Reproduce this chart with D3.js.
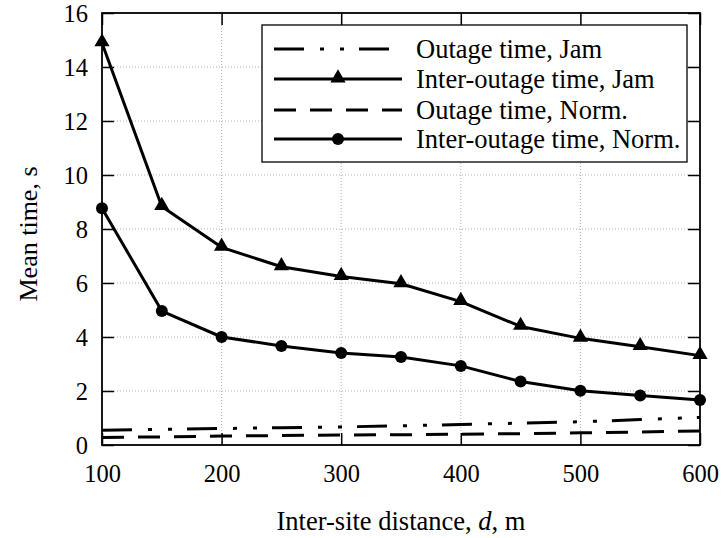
<!DOCTYPE html>
<html>
<head>
<meta charset="utf-8">
<script src="https://cdn.jsdelivr.net/npm/d3@7"></script>
<style>
  html, body { margin: 0; padding: 0; background: #fff; }
  svg { display: block; font-family: "Liberation Serif", "Times New Roman", serif; }
</style>
</head>
<body>
<svg id="chart" width="724" height="538"></svg>
<script>
// ---- data ----
const distances = [100, 150, 200, 250, 300, 350, 400, 450, 500, 550, 600];
const outageJam = [0.55, 0.58, 0.61, 0.64, 0.67, 0.71, 0.76, 0.81, 0.86, 0.94, 1.02];
const interOutageJam = [14.89, 8.83, 7.32, 6.60, 6.24, 5.97, 5.31, 4.39, 3.95, 3.64, 3.31];
const outageNorm = [0.28, 0.30, 0.33, 0.35, 0.37, 0.38, 0.40, 0.42, 0.45, 0.48, 0.52];
const interOutageNorm = [8.77, 4.96, 4.00, 3.67, 3.41, 3.26, 2.93, 2.35, 2.01, 1.83, 1.67];
const xTicks = [100, 200, 300, 400, 500, 600];
const yTicks = [0, 2, 4, 6, 8, 10, 12, 14, 16];
const seriesNames = ["Outage time, Jam", "Inter-outage time, Jam", "Outage time, Norm.", "Inter-outage time, Norm."];
const xTitle = "Inter-site distance, ";
const yTitle = "Mean time, s";

const series = [
  { name: seriesNames[0], values: outageJam, dash: "30,16,4,16,4,15", marker: null },
  { name: seriesNames[1], values: interOutageJam, dash: null, marker: "triangle" },
  { name: seriesNames[2], values: outageNorm, dash: "22,14", marker: null },
  { name: seriesNames[3], values: interOutageNorm, dash: null, marker: "circle" }
];

const L = 102, R = 700, T = 13, B = 445;
const svg = d3.select("#chart");
const x = d3.scaleLinear().domain([100, 600]).range([L, R]);
const y = d3.scaleLinear().domain([0, 16]).range([B, T]);

// grid
const grid = svg.append("g");
grid.selectAll("line.gx").data(xTicks.slice(1, -1)).join("line")
  .attr("x1", d => x(d)).attr("x2", d => x(d)).attr("y1", T).attr("y2", B)
  .attr("stroke", "#b0b0b0").attr("stroke-width", 1).attr("stroke-dasharray", "1,2");
grid.selectAll("line.gy").data(yTicks.slice(1, -1)).join("line")
  .attr("y1", d => y(d)).attr("y2", d => y(d)).attr("x1", L).attr("x2", R)
  .attr("stroke", "#b0b0b0").attr("stroke-width", 1).attr("stroke-dasharray", "1,2");

// axes with inward ticks
const tickLen = 12;
const fmt = d3.format("d");
const xAxisB = d3.axisBottom(x).tickValues(xTicks).tickSize(-tickLen).tickPadding(tickLen + 20).tickFormat(fmt);
const xAxisT = d3.axisTop(x).tickValues(xTicks).tickSize(-tickLen).tickFormat("");
const yAxisL = d3.axisLeft(y).tickValues(yTicks).tickSize(-tickLen).tickPadding(tickLen + 14).tickFormat(fmt);
const yAxisR = d3.axisRight(y).tickValues(yTicks).tickSize(-tickLen).tickFormat("");

function styleAxis(g) {
  g.attr("font-family", null);
  g.select(".domain").remove();
  g.selectAll(".tick line").attr("stroke", "#000").attr("stroke-width", 1.5);
  g.selectAll(".tick text").attr("fill", "#000").style("font-size", "24.5px")
    .style("font-family", "'Liberation Serif', 'Times New Roman', serif");
}
svg.append("g").attr("transform", `translate(0,${B})`).call(xAxisB).call(styleAxis)
  .selectAll(".tick text").attr("dy", "0").attr("y", 37);
svg.append("g").attr("transform", `translate(0,${T})`).call(xAxisT).call(styleAxis);
svg.append("g").attr("transform", `translate(${L},0)`).call(yAxisL).call(styleAxis)
  .selectAll(".tick text").attr("x", -14).attr("dy", "0.33em");
svg.append("g").attr("transform", `translate(${R},0)`).call(yAxisR).call(styleAxis);

// lines
const line = d3.line().x((d, i) => x(distances[i])).y(d => y(d));
const triangle = d3.symbol().type(d3.symbolTriangle).size(100);
series.forEach(s => {
  svg.append("path").datum(s.values)
    .attr("d", line).attr("fill", "none").attr("stroke", "#000")
    .attr("stroke-width", 3).attr("stroke-linejoin", "round")
    .attr("stroke-dasharray", s.dash);
  if (s.marker === "triangle") {
    svg.append("g").selectAll("path").data(s.values).join("path")
      .attr("transform", (d, i) => `translate(${x(distances[i])},${y(d) - 1})`)
      .attr("d", triangle).attr("fill", "#000");
  } else if (s.marker === "circle") {
    svg.append("g").selectAll("circle").data(s.values).join("circle")
      .attr("cx", (d, i) => x(distances[i])).attr("cy", d => y(d)).attr("r", 6).attr("fill", "#000");
  }
});

// frame
svg.append("rect").attr("x", L).attr("y", T).attr("width", R - L).attr("height", B - T)
  .attr("fill", "none").attr("stroke", "#000").attr("stroke-width", 1.8);

// axis titles
const xt = svg.append("text").attr("x", 401).attr("y", 530).attr("text-anchor", "middle")
  .style("font-size", "26.5px").attr("fill", "#000");
xt.append("tspan").text(xTitle);
xt.append("tspan").style("font-style", "italic").text("d");
xt.append("tspan").text(", m");
svg.append("text").attr("transform", "translate(37,234) rotate(-90)").attr("text-anchor", "middle")
  .style("font-size", "26px").attr("fill", "#000").text(yTitle);

// legend
const lg = svg.append("g");
lg.append("rect").attr("x", 262).attr("y", 25).attr("width", 425).attr("height", 137)
  .attr("fill", "#fff").attr("stroke", "#000").attr("stroke-width", 1.3);
const rowY = [49, 79, 110, 139];
series.forEach((s, i) => {
  const yy = rowY[i];
  lg.append("line").attr("x1", 274).attr("x2", 402).attr("y1", yy).attr("y2", yy)
    .attr("stroke", "#000").attr("stroke-width", 3).attr("stroke-dasharray", s.dash);
  if (s.marker === "triangle") {
    lg.append("path").attr("transform", `translate(338,${yy - 1})`).attr("d", triangle).attr("fill", "#000");
  } else if (s.marker === "circle") {
    lg.append("circle").attr("cx", 338).attr("cy", yy).attr("r", 6).attr("fill", "#000");
  }
  lg.append("text").attr("x", 416).attr("y", yy).attr("dy", "0.33em")
    .style("font-size", "26.5px").attr("fill", "#000").text(s.name);
});
</script>
</body>
</html>
